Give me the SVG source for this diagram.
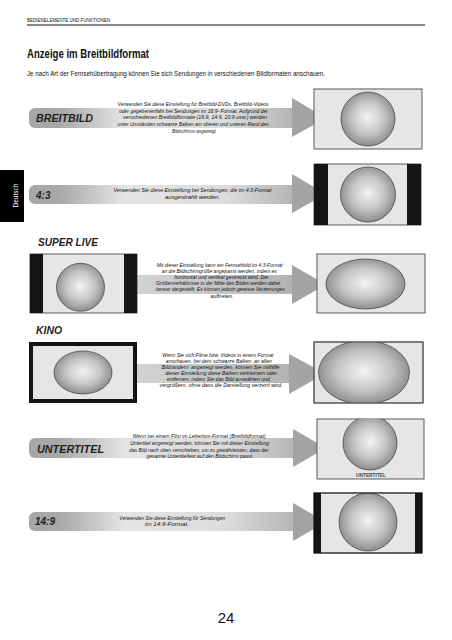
<svg xmlns="http://www.w3.org/2000/svg" width="452" height="640" viewBox="0 0 452 640">
<style>
.hdr{font-family:"Liberation Sans",Arial,sans-serif;font-size:6px;fill:#111}
.title{font-family:"Liberation Sans",Arial,sans-serif;font-size:13px;font-weight:bold;fill:#111}
.sub{font-family:"Liberation Sans",Arial,sans-serif;font-size:8px;fill:#111}
.lbl{font-family:"Liberation Sans",Arial,sans-serif;font-size:10.5px;font-weight:bold;font-style:italic;fill:#1e1e1e}
.desc{font-family:"Liberation Sans",Arial,sans-serif;font-size:6.2px;font-style:italic;fill:#111;text-anchor:middle}
.scr{fill:#e6e6e6;stroke:#4a4a4a;stroke-width:0.9}
.blk{fill:#141414}
.ball{fill:url(#ballG);stroke:#3a3a3a;stroke-width:0.7}
.head{fill:#a4a4a4}
.bar{fill:url(#barG)}
.shaft{fill:url(#shaftG)}
.tab{font-family:"Liberation Sans",Arial,sans-serif;font-size:7.5px;fill:#fff}
.pg{font-family:"Liberation Sans",Arial,sans-serif;font-size:15px;fill:#111;text-anchor:middle}
.mini{font-family:"Liberation Sans",Arial,sans-serif;font-size:4.8px;font-weight:bold;fill:#444;text-anchor:middle}
</style>
<defs>
<radialGradient id="ballG" cx="0.5" cy="0.48" r="0.55">
<stop offset="0" stop-color="#f4f4f4"/>
<stop offset="0.55" stop-color="#c4c4c4"/>
<stop offset="1" stop-color="#858585"/>
</radialGradient>
<linearGradient id="barG" x1="0" y1="0" x2="1" y2="0">
<stop offset="0" stop-color="#a6a6a6"/>
<stop offset="0.12" stop-color="#a9a9a9"/>
<stop offset="0.36" stop-color="#e4e4e4"/>
<stop offset="0.75" stop-color="#dcdcdc"/>
<stop offset="1" stop-color="#b6b6b6"/>
</linearGradient>
<linearGradient id="shaftG" x1="0" y1="0" x2="1" y2="0">
<stop offset="0" stop-color="#d2d2d2"/>
<stop offset="0.5" stop-color="#c6c6c6"/>
<stop offset="1" stop-color="#b2b2b2"/>
</linearGradient>
<clipPath id="cKino"><rect x="314" y="342" width="109" height="61"/></clipPath>
<clipPath id="cUnt"><rect x="316.5" y="418.5" width="108" height="61"/></clipPath>
<clipPath id="c149"><rect x="314" y="493" width="108" height="60"/></clipPath>
</defs>

<g id="header">
<text class="hdr" x="27" y="22" textLength="83" lengthAdjust="spacingAndGlyphs">BEDIENELEMENTE UND FUNKTIONEN</text>
<line x1="27" y1="25" x2="425" y2="25" stroke="#111" stroke-width="1"/>
<text class="title" x="27" y="57.5" textLength="122" lengthAdjust="spacingAndGlyphs">Anzeige im Breitbildformat</text>
<text class="sub" x="27" y="76" textLength="298" lengthAdjust="spacingAndGlyphs">Je nach Art der Fernsehübertragung können Sie sich Sendungen in verschiedenen Bildformaten anschauen.</text>
</g>

<g id="tab-deutsch">
<rect x="0" y="170" width="24" height="52" fill="#000"/>
<text class="tab" transform="translate(18,195.5) rotate(-90)" text-anchor="middle" textLength="24" lengthAdjust="spacingAndGlyphs">Deutsch</text>
</g>

<g id="connectors">
<path class="bar" d="M35,108 H292 V128 H35 A6,6 0 0 1 29,122 V114 A6,6 0 0 1 35,108 Z"/>
<polygon class="head" points="292,98 326,118 292,137"/>
<path class="bar" d="M35,185 H292 V204 H35 A6,6 0 0 1 29,198 V191 A6,6 0 0 1 35,185 Z"/>
<polygon class="head" points="292,174 326,194 292,213"/>
<rect class="shaft" x="137" y="275" width="156" height="19"/>
<polygon class="head" points="292,265 326,284.5 292,304"/>
<rect class="shaft" x="137" y="364" width="153" height="19"/>
<polygon class="head" points="289,354 325,373.5 289,394"/>
<path class="bar" d="M35,438 H293 V458 H35 A6,6 0 0 1 29,452 V444 A6,6 0 0 1 35,438 Z"/>
<polygon class="head" points="293,429 326,448 293,467"/>
<path class="bar" d="M35,512 H293 V531 H35 A6,6 0 0 1 29,525 V518 A6,6 0 0 1 35,512 Z"/>
<polygon class="head" points="293,503 326,522 293,541"/>
</g>

<g id="breitbild">
<text class="lbl" x="36" y="122" textLength="57" lengthAdjust="spacingAndGlyphs">BREITBILD</text>
<text class="desc" x="193" y="106" textLength="151" lengthAdjust="spacingAndGlyphs">Verwenden Sie diese Einstellung für Breitbild-DVDs, Breitbild-Videos</text>
<text class="desc" x="193.5" y="112.5" textLength="149" lengthAdjust="spacingAndGlyphs">oder gegebenenfalls bei Sendungen im 16:9- Format. Aufgrund der</text>
<text class="desc" x="195" y="119" textLength="144" lengthAdjust="spacingAndGlyphs">verschiedenen Breitbildformate (16:9, 14:9, 20:9 usw.) werden</text>
<text class="desc" x="193" y="125.7" textLength="151" lengthAdjust="spacingAndGlyphs">unter Umständen schwarze Balken am oberen und unteren Rand des</text>
<text class="desc" x="194.5" y="132.5" textLength="45" lengthAdjust="spacingAndGlyphs">Bildschirms angezeigt.</text>
<rect class="scr" x="314" y="89" width="108" height="60"/>
<circle class="ball" cx="368" cy="119" r="27"/>
</g>

<g id="format-4-3">
<text class="lbl" x="36" y="198.5" textLength="14.5" lengthAdjust="spacingAndGlyphs">4:3</text>
<text class="desc" x="192.5" y="192" textLength="158" lengthAdjust="spacingAndGlyphs">Verwenden Sie diese Einstellung bei Sendungen, die im 4:3-Format</text>
<text class="desc" x="192.5" y="198.7" textLength="55" lengthAdjust="spacingAndGlyphs">ausgestrahlt werden.</text>
<rect class="scr" x="314" y="164" width="107" height="61"/>
<rect class="blk" x="314" y="164" width="14" height="61"/>
<rect class="blk" x="407" y="164" width="14" height="61"/>
<circle class="ball" cx="368" cy="194.5" r="27.5"/>
</g>

<g id="super-live">
<text class="lbl" x="38" y="246" textLength="60" lengthAdjust="spacingAndGlyphs">SUPER LIVE</text>
<rect class="scr" x="30" y="254" width="107" height="59"/>
<rect class="blk" x="30" y="254" width="13" height="59"/>
<rect class="blk" x="124" y="254" width="13" height="59"/>
<circle class="ball" cx="80.5" cy="287.3" r="24"/>
<text class="desc" x="219.7" y="267" textLength="126" lengthAdjust="spacingAndGlyphs">Mit dieser Einstellung kann ein Fernsehbild im 4:3-Format</text>
<text class="desc" x="219.2" y="273" textLength="115" lengthAdjust="spacingAndGlyphs">an die Bildschirmgröße angepasst werden, indem es</text>
<text class="desc" x="221.2" y="279.2" textLength="94" lengthAdjust="spacingAndGlyphs">horizontal und vertikal gestreckt wird. Die</text>
<text class="desc" x="218" y="285.3" textLength="124" lengthAdjust="spacingAndGlyphs">Größenverhältnisse in der Mitte des Bildes werden dabei</text>
<text class="desc" x="220.5" y="291.4" textLength="129" lengthAdjust="spacingAndGlyphs">besser dargestellt. Es können jedoch gewisse Verzerrungen</text>
<text class="desc" x="222" y="297.6" textLength="23" lengthAdjust="spacingAndGlyphs">auftreten.</text>
<rect class="scr" x="317" y="254" width="108" height="59"/>
<ellipse class="ball" cx="365.5" cy="284" rx="39.5" ry="25"/>
</g>

<g id="kino">
<text class="lbl" x="36" y="334" textLength="26" lengthAdjust="spacingAndGlyphs">KINO</text>
<rect class="blk" x="29" y="342" width="108" height="61"/>
<rect fill="#e6e6e6" x="33" y="346" width="100" height="53"/>
<ellipse class="ball" cx="83" cy="372.5" rx="29" ry="21.5"/>
<text class="desc" x="217.8" y="357" textLength="111" lengthAdjust="spacingAndGlyphs">Wenn Sie sich Filme bzw. Videos in einem Format</text>
<text class="desc" x="218.8" y="362.8" textLength="106" lengthAdjust="spacingAndGlyphs">anschauen, bei dem schwarze Balken ‚an allen</text>
<text class="desc" x="220.5" y="368.8" textLength="118" lengthAdjust="spacingAndGlyphs">Bildrändern‘ angezeigt werden, können Sie mithilfe</text>
<text class="desc" x="221.2" y="374.8" textLength="112" lengthAdjust="spacingAndGlyphs">dieser Einstellung diese Balken verkleinern oder</text>
<text class="desc" x="218.3" y="381" textLength="103" lengthAdjust="spacingAndGlyphs">entfernen, indem Sie das Bild auswählen und</text>
<text class="desc" x="221" y="387.2" textLength="123" lengthAdjust="spacingAndGlyphs">vergrößern, ohne dass die Darstellung verzerrt wird.</text>
<rect class="scr" x="314" y="342" width="109" height="61"/>
<ellipse class="ball" cx="364" cy="372.5" rx="45.5" ry="32" clip-path="url(#cKino)"/>
<rect x="314" y="342" width="109" height="61" fill="none" stroke="#4a4a4a" stroke-width="0.9"/>
</g>

<g id="untertitel">
<text class="lbl" x="37" y="452.5" textLength="67" lengthAdjust="spacingAndGlyphs">UNTERTITEL</text>
<text class="desc" x="199.3" y="438" textLength="133" lengthAdjust="spacingAndGlyphs">Wenn bei einem Film im Letterbox-Format (Breitbildformat)</text>
<text class="desc" x="199.7" y="445" textLength="139" lengthAdjust="spacingAndGlyphs">Untertitel angezeigt werden, können Sie mit dieser Einstellung</text>
<text class="desc" x="198.8" y="451.7" textLength="139" lengthAdjust="spacingAndGlyphs">das Bild nach oben verschieben, um zu gewährleisten, dass der</text>
<text class="desc" x="200" y="458.3" textLength="107" lengthAdjust="spacingAndGlyphs">gesamte Untertiteltext auf den Bildschirm passt.</text>
<rect class="scr" x="317" y="419" width="107" height="60"/>
<circle class="ball" cx="370" cy="443" r="27" clip-path="url(#cUnt)"/>
<text class="mini" x="371" y="476.5" textLength="30" lengthAdjust="spacingAndGlyphs">UNTERTITEL</text>
</g>

<g id="format-14-9">
<text class="lbl" x="35" y="524.5" textLength="20" lengthAdjust="spacingAndGlyphs">14:9</text>
<text class="desc" x="172.3" y="520.3" textLength="106" lengthAdjust="spacingAndGlyphs">Verwenden Sie diese Einstellung für Sendungen</text>
<text class="desc" x="167" y="526.3" textLength="44" lengthAdjust="spacingAndGlyphs">im 14:9-Format.</text>
<rect class="scr" x="314" y="493" width="108" height="60"/>
<rect class="blk" x="314" y="493" width="7" height="60"/>
<rect class="blk" x="415" y="493" width="7" height="60"/>
<circle class="ball" cx="368" cy="522" r="29" clip-path="url(#c149)"/>
<rect x="314" y="493" width="108" height="60" fill="none" stroke="#141414" stroke-width="0.9"/>
</g>

<g id="page-number">
<text class="pg" x="226" y="623">24</text>
</g>
</svg>
